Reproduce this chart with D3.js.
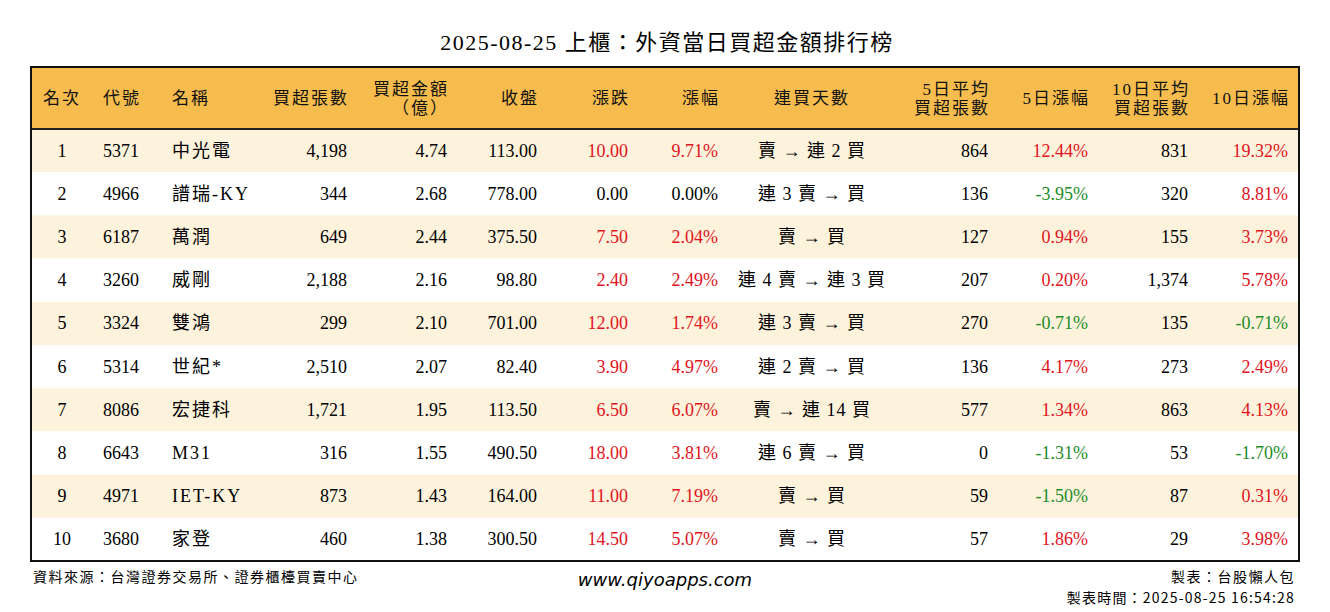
<!DOCTYPE html>
<html><head><meta charset="utf-8">
<script src="https://cdn.jsdelivr.net/npm/d3@7"></script>
<style>body{margin:0;background:#fff}</style>
</head><body><svg id="chart"></svg>
<script>
var ranks = [1,2,3,4,5,6,7,8,9,10];
var codes = ["5371","4966","6187","3260","3324","5314","8086","6643","4971","3680"];
var names = ["中光電","譜瑞-KY","萬潤","威剛","雙鴻","世紀*","宏捷科","M31","IET-KY","家登"];
var buyLots = [4198,344,649,2188,299,2510,1721,316,873,460];
var buyAmt = [4.74,2.68,2.44,2.16,2.10,2.07,1.95,1.55,1.43,1.38];
var closes = [113.00,778.00,375.50,98.80,701.00,82.40,113.50,490.50,164.00,300.50];
var changes = [10.00,0.00,7.50,2.40,12.00,3.90,6.50,18.00,11.00,14.50];
var pcts = [9.71,0.00,2.04,2.49,1.74,4.97,6.07,3.81,7.19,5.07];
var streaks = ["賣 → 連 2 買","連 3 賣 → 買","賣 → 買","連 4 賣 → 連 3 買","連 3 賣 → 買","連 2 賣 → 買","賣 → 連 14 買","連 6 賣 → 買","賣 → 買","賣 → 買"];
var avg5 = [864,136,127,207,270,136,577,0,59,57];
var pct5 = [12.44,-3.95,0.94,0.20,-0.71,4.17,1.34,-1.31,-1.50,1.86];
var avg10 = [831,320,155,1374,135,273,863,53,87,29];
var pct10 = [19.32,8.81,3.73,5.78,-0.71,2.49,4.13,-1.70,0.31,3.98];

d3.formatDefaultLocale({decimal: ".", thousands: ",", grouping: [3], currency: ["", ""], minus: "-"});

var W = 1330, H = 612;
var svg = d3.select("#chart").attr("width", W).attr("height", H);
var font = "'Liberation Serif','Noto Sans CJK TC',serif";
var red = "#e0141e", green = "#1e8c28";
var fmtInt = d3.format(","), f2 = d3.format(".2f");
function pctColor(v) { return v > 0 ? red : v < 0 ? green : "#000"; }

// columns: header, x, anchor, text fn, color fn
var cols = [
  {h:["名次"], x:62, a:"middle", t:i=>ranks[i]},
  {h:["代號"], x:103, a:"start", t:i=>codes[i]},
  {h:["名稱"], x:172, a:"start", t:i=>names[i], ls:2},
  {h:["買超張數"], x:347, a:"end", t:i=>fmtInt(buyLots[i])},
  {h:["買超金額","（億）"], x:447, a:"end", t:i=>f2(buyAmt[i])},
  {h:["收盤"], x:537, a:"end", t:i=>f2(closes[i])},
  {h:["漲跌"], x:628, a:"end", t:i=>f2(changes[i]), c:i=>pctColor(changes[i])},
  {h:["漲幅"], x:718, a:"end", t:i=>f2(pcts[i])+"%", c:i=>pctColor(pcts[i])},
  {h:["連買天數"], x:812, a:"middle", t:i=>streaks[i], ls:1},
  {h:["5日平均","買超張數"], x:988, a:"end", t:i=>fmtInt(avg5[i])},
  {h:["5日漲幅"], x:1088, a:"end", t:i=>f2(pct5[i])+"%", c:i=>pctColor(pct5[i])},
  {h:["10日平均","買超張數"], x:1188, a:"end", t:i=>fmtInt(avg10[i])},
  {h:["10日漲幅"], x:1288, a:"end", t:i=>f2(pct10[i])+"%", c:i=>pctColor(pct10[i])}
];

var tLeft = 31, tRight = 1299, tTop = 67, tBottom = 561, headH = 62;
var y = d3.scaleBand().domain(d3.range(ranks.length)).range([tTop + headH, tBottom]);

svg.append("text").attr("x", W/2 + 2).attr("y", 50).attr("text-anchor", "middle")
  .attr("font-family", font).attr("font-size", 22).attr("letter-spacing", 1.5)
  .text("2025-08-25 上櫃：外資當日買超金額排行榜");

svg.append("rect").attr("x", tLeft).attr("y", tTop).attr("width", tRight-tLeft).attr("height", headH).attr("fill", "#f6bd4e");
svg.selectAll("rect.row").data(d3.range(ranks.length)).join("rect")
  .attr("x", tLeft).attr("y", i=>y(i)).attr("width", tRight-tLeft).attr("height", y.bandwidth())
  .attr("fill", i => i % 2 === 0 ? "#fdf2dc" : "#fff");

cols.forEach(function (c) {
  var n = c.h.length;
  c.h.forEach(function (line, k) {
    svg.append("text").attr("x", c.a === "end" ? c.x + 2 : c.x).attr("y", tTop + headH/2 + 6 + (k - (n-1)/2) * 19)
      .attr("text-anchor", c.a).attr("font-family", font).attr("font-size", 17)
      .attr("letter-spacing", 2).attr("fill", "#111").text(line);
  });
  svg.selectAll(null).data(d3.range(ranks.length)).join("text")
    .attr("x", c.x).attr("y", i => y(i) + y.bandwidth()/2 + 6)
    .attr("text-anchor", c.a).attr("font-family", font).attr("font-size", 18)
    .attr("letter-spacing", c.ls || 0)
    .attr("fill", i => c.c ? c.c(i) : "#000").text(i => c.t(i));
});

svg.append("line").attr("x1", tLeft).attr("x2", tRight).attr("y1", tTop+headH).attr("y2", tTop+headH)
  .attr("stroke", "#222").attr("stroke-width", 2);
svg.append("rect").attr("x", tLeft).attr("y", tTop).attr("width", tRight-tLeft).attr("height", tBottom-tTop)
  .attr("fill", "none").attr("stroke", "#111").attr("stroke-width", 2);

var ff = "'Noto Sans CJK TC',sans-serif";
svg.append("text").attr("x", 33).attr("y", 582).attr("font-family", ff).attr("font-size", 14).attr("letter-spacing", 1.5).text("資料來源：台灣證券交易所、證券櫃檯買賣中心");
svg.append("text").attr("x", 665).attr("y", 586).attr("text-anchor", "middle").attr("font-family", "'DejaVu Sans',sans-serif")
  .attr("font-style", "italic").attr("font-size", 18).text("www.qiyoapps.com");
svg.append("text").attr("x", 1295).attr("y", 582).attr("text-anchor", "end").attr("font-family", ff).attr("font-size", 14).attr("letter-spacing", 1.5).text("製表：台股懶人包");
svg.append("text").attr("x", 1295).attr("y", 603).attr("text-anchor", "end").attr("font-family", ff).attr("font-size", 14).attr("letter-spacing", 1.2).text("製表時間：2025-08-25 16:54:28");
</script></body></html>
